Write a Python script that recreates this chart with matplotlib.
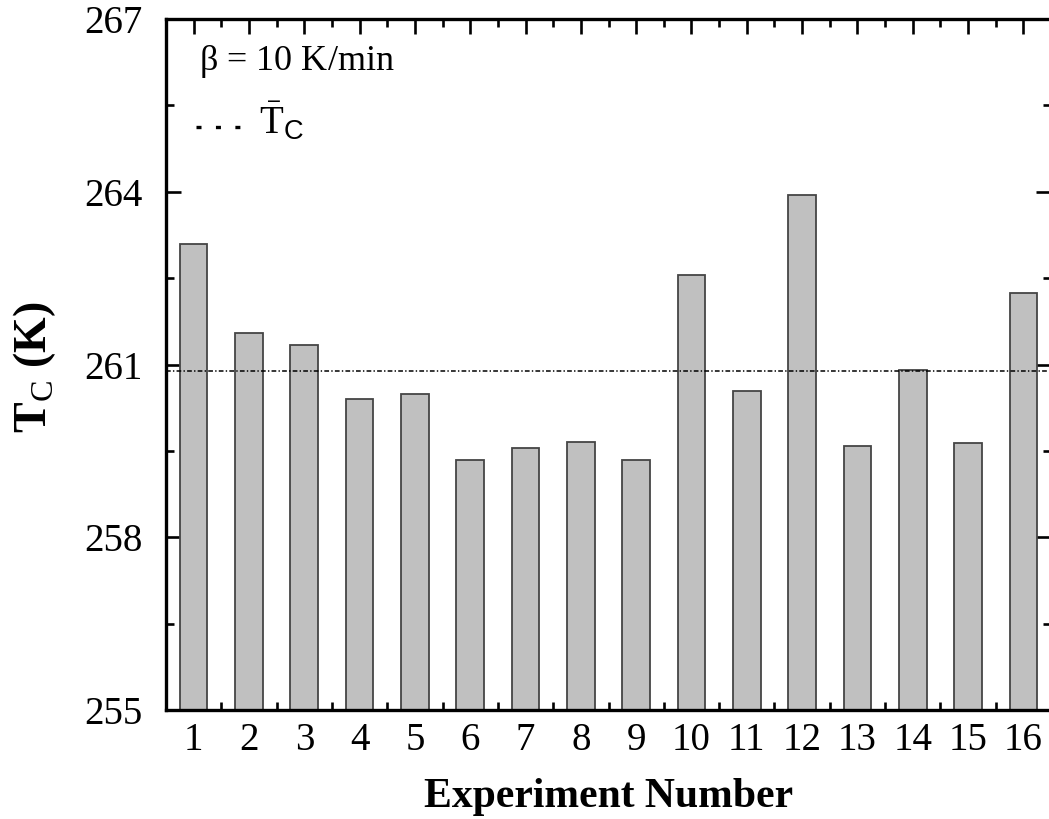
import matplotlib
matplotlib.use("Agg")
import matplotlib.pyplot as plt
import numpy as np
from matplotlib.ticker import MultipleLocator

plt.rcParams['font.family'] = ['Liberation Serif', 'DejaVu Serif']
plt.rcParams['mathtext.fontset'] = 'custom'
plt.rcParams['mathtext.rm'] = 'Liberation Serif'
plt.rcParams['mathtext.bf'] = 'Liberation Serif:bold'
plt.rcParams['mathtext.sf'] = 'Liberation Sans'
plt.rcParams['lines.scale_dashes'] = False

experiments = list(range(1, 17))
tc_values = [263.10, 261.54, 261.33, 260.40, 260.49, 259.35, 259.55, 259.65,
             259.34, 262.56, 260.54, 263.94, 259.59, 260.91, 259.64, 262.24]
y_ticks = [255, 258, 261, 264, 267]
tc_mean = float(np.mean(tc_values))

W, H = 1049, 819
fig = plt.figure(figsize=(W / 100, H / 100), dpi=100)
ax = fig.add_axes([166 / W, (H - 710) / H, 885 / W, 691 / H])

ax.bar(experiments, [v - 255 for v in tc_values], bottom=255, width=0.5,
       color='#c0c0c0', edgecolor='#454545', linewidth=1.3, zorder=2)
ax.axhline(tc_mean, color='black', lw=1.1, linestyle=(0, (3.4, 1.6, 1.0, 1.6)), zorder=3)

ax.set_xlim(0.5, 16.5)
ax.set_ylim(255, 267)
ax.set_xticks(experiments)
ax.set_yticks(y_ticks)
ax.xaxis.set_minor_locator(MultipleLocator(0.5))
ax.yaxis.set_minor_locator(MultipleLocator(1.5))

for s in ax.spines.values():
    s.set_linewidth(2.4)
ax.tick_params(which='both', direction='in', top=True, right=True, width=1.9)
ax.tick_params(which='major', length=11, labelsize=28)
ax.tick_params(which='minor', length=5.5)
ax.tick_params(axis='x', which='major', pad=9)
ax.tick_params(axis='y', which='major', pad=17)

ax.set_xlabel('Experiment Number', fontsize=30, fontweight='bold', labelpad=13)
fig.text(35 / W, 1 - 367 / H, r'T$_{\mathrm{C}}$ (K)', rotation=90, fontsize=33,
         fontweight='bold', ha='center', va='center')

# key
ax.text((199 - 166) / 885, (710 - 62) / 691, r'$\mathrm{\beta}$ = 10 K/min',
        transform=ax.transAxes, fontsize=26, va='center', ha='left')
ax.plot([(196 - 166) / 885, (242 - 166) / 885], [(710 - 127) / 691] * 2,
        transform=ax.transAxes, color='black', lw=2.4,
        linestyle=(0, (3.6, 10.4)), clip_on=False)
ax.text((259 - 166) / 885, (710 - 121) / 691, r'$\bar{\mathrm{T}}_{\mathsf{C}}$',
        transform=ax.transAxes, fontsize=28, va='center', ha='left')

fig.savefig('out.png', dpi=100)
